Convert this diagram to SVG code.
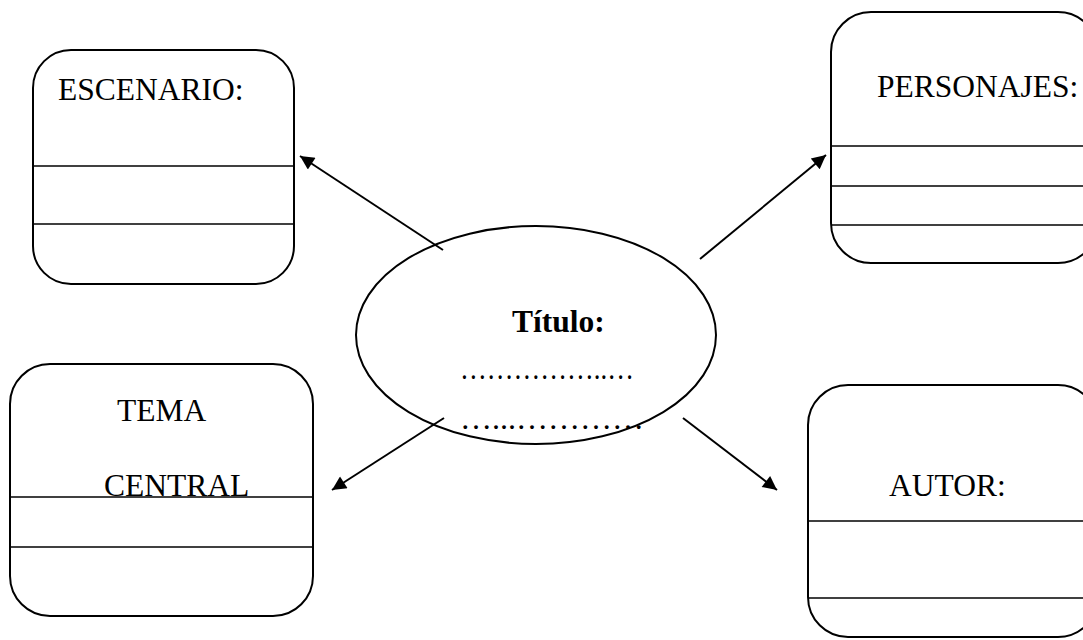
<svg xmlns="http://www.w3.org/2000/svg" width="1083" height="640" viewBox="0 0 1083 640">
<defs>
<style>
.box{fill:#fff;stroke:#000;stroke-width:2}
.sep{stroke:#000;stroke-width:1.6}
.lbl{font-family:"Liberation Serif","Times New Roman",serif;font-size:31.5px;fill:#000}
.conn{stroke:#000;stroke-width:2;fill:none}
</style>
<marker id="ah" viewBox="0 0 10 10" refX="10" refY="5" markerWidth="8.5" markerHeight="7" markerUnits="strokeWidth" orient="auto">
<path d="M0,0 L10,5 L0,10 z" fill="#000"/>
</marker>
</defs>
<rect width="1083" height="640" fill="#fff"/>
<g id="escenario">
<rect class="box" x="33" y="50" width="261" height="234" rx="38" ry="38"/>
<line class="sep" x1="33" y1="166" x2="294" y2="166"/>
<line class="sep" x1="33" y1="224" x2="294" y2="224"/>
<text class="lbl" x="58" y="100">ESCENARIO:</text>
</g>
<g id="personajes">
<rect class="box" x="831" y="12" width="267" height="251" rx="40" ry="40"/>
<line class="sep" x1="831" y1="146" x2="1098" y2="146"/>
<line class="sep" x1="831" y1="186" x2="1098" y2="186"/>
<line class="sep" x1="831" y1="225" x2="1098" y2="225"/>
<text class="lbl" x="877" y="97">PERSONAJES:</text>
</g>
<g id="tema">
<rect class="box" x="10" y="364" width="303" height="252" rx="40" ry="40"/>
<line class="sep" x1="10" y1="497" x2="313" y2="497"/>
<line class="sep" x1="10" y1="547" x2="313" y2="547"/>
<text class="lbl" x="117" y="421">TEMA</text>
<text class="lbl" x="104" y="496">CENTRAL</text>
</g>
<g id="autor">
<rect class="box" x="808" y="385" width="290" height="252" rx="40" ry="40"/>
<line class="sep" x1="808" y1="521" x2="1098" y2="521"/>
<line class="sep" x1="808" y1="598" x2="1098" y2="598"/>
<text class="lbl" x="889" y="496">AUTOR:</text>
</g>
<g id="titulo">
<ellipse class="box" cx="536" cy="335" rx="180" ry="109"/>
<text class="lbl" x="512" y="332" font-weight="bold">Título:</text>
<text class="lbl" x="460" y="379" textLength="174" lengthAdjust="spacingAndGlyphs">……………..…</text>
<text class="lbl" x="460" y="429" textLength="184" lengthAdjust="spacingAndGlyphs">…...…………</text>
</g>
<g id="connectors">
<line class="conn" x1="443" y1="250" x2="300" y2="156" marker-end="url(#ah)"/>
<line class="conn" x1="700" y1="259" x2="826" y2="155" marker-end="url(#ah)"/>
<line class="conn" x1="444" y1="418" x2="332" y2="490" marker-end="url(#ah)"/>
<line class="conn" x1="683" y1="418" x2="777" y2="490" marker-end="url(#ah)"/>
</g>
</svg>
